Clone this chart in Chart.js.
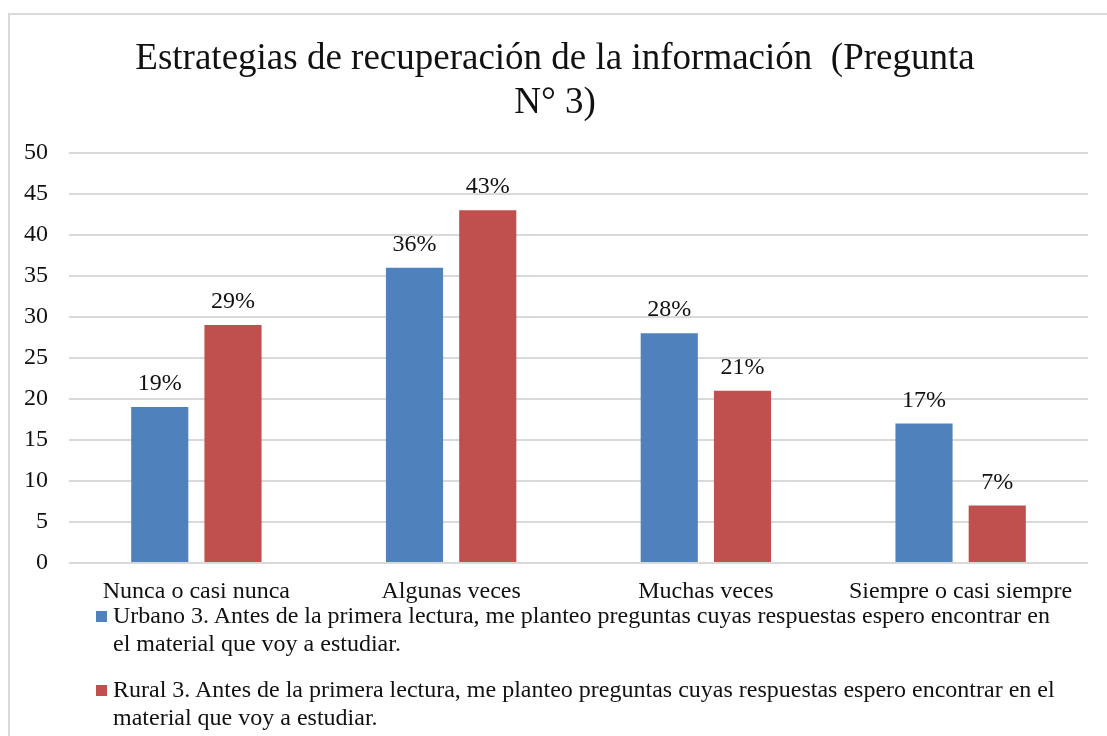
<!DOCTYPE html>
<html>
<head>
<meta charset="utf-8">
<script src="https://cdn.jsdelivr.net/npm/chart.js@4"></script>
<style>
  html, body { margin: 0; padding: 0; background: #fff; }
  #wrap { position: relative; width: 1107px; height: 736px; overflow: hidden; }
  #frame { position: absolute; left: 8px; top: 13px; width: 1200px; height: 800px;
           border-left: 2px solid #d9d9d9; border-top: 2px solid #d9d9d9; }
  #chartBox { position: absolute; left: 0; top: 0; width: 1107px; height: 736px; }
  #legend { position: absolute; left: 96px; top: 601px; width: 980px;
            font-family: "Liberation Serif", "Times New Roman", serif; font-size: 24px;
            line-height: 28px; color: #111; }
  .item { display: flex; align-items: flex-start; margin-bottom: 18px; }
  .box { width: 11px; height: 11px; margin-top: 10px; margin-right: 6px; flex: none; }
  .txt { max-width: 950px; }
</style>
</head>
<body>
<div id="wrap">
  <div id="frame"></div>
  <div id="chartBox"><canvas id="chart"></canvas></div>
  <div id="legend"></div>
</div>
<script>
const categories = ["Nunca o casi nunca", "Algunas veces", "Muchas veces", "Siempre o casi siempre"];
const urbano = [19, 36, 28, 17];
const rural = [29, 43, 21, 7];
const seriesNames = [
  "Urbano 3. Antes de la primera lectura, me planteo preguntas cuyas respuestas espero encontrar en el material que voy a estudiar.",
  "Rural 3. Antes de la primera lectura, me planteo preguntas cuyas respuestas espero encontrar en el material que voy a estudiar."
];
const titleLines = ["Estrategias de recuperación de la información  (Pregunta", "N° 3)"];

const serif = "'Liberation Serif', 'Times New Roman', serif";

// percentage labels above each bar
const valueLabels = {
  id: "valueLabels",
  afterDatasetsDraw(chart) {
    const ctx = chart.ctx;
    ctx.save();
    ctx.font = "24px " + serif;
    ctx.fillStyle = "#111";
    ctx.textAlign = "center";
    ctx.textBaseline = "alphabetic";
    chart.data.datasets.forEach((ds, i) => {
      chart.getDatasetMeta(i).data.forEach((bar, j) => {
        ctx.fillText(ds.data[j] + "%", bar.x, bar.y - 17);
      });
    });
    ctx.restore();
  }
};

const chart = new Chart(document.getElementById("chart"), {
  type: "bar",
  data: {
    labels: categories,
    datasets: [
      { label: seriesNames[0], data: urbano, backgroundColor: "#4F81BD" },
      { label: seriesNames[1], data: rural, backgroundColor: "#C0504D" }
    ]
  },
  options: {
    responsive: true,
    maintainAspectRatio: false,
    animation: false,
    layout: { padding: { left: 22, right: 19, top: 0, bottom: 0 } },
    datasets: { bar: { categoryPercentage: 0.575, barPercentage: 0.78 } },
    plugins: {
      legend: { display: false },
      tooltip: { enabled: false },
      title: {
        display: true,
        text: titleLines,
        color: "#111",
        font: { family: serif, size: 37, weight: "normal", lineHeight: 1.2 },
        padding: { top: 37, bottom: 27 }
      }
    },
    scales: {
      x: {
        grid: { display: false },
        border: { display: false },
        ticks: { color: "#111", font: { family: serif, size: 24 }, padding: 6, maxRotation: 0 },
        afterFit(scale) { scale.height = 173; }
      },
      y: {
        min: 0,
        max: 50,
        ticks: { stepSize: 5, color: "#111", font: { family: serif, size: 24 }, padding: 21 },
        grid: { color: "#d9d9d9", lineWidth: 2, drawTicks: false },
        border: { display: false },
        afterFit(scale) { scale.width = 47; }
      }
    }
  },
  plugins: [valueLabels]
});

const legend = document.getElementById("legend");
chart.data.datasets.forEach(ds => {
  const item = document.createElement("div");
  item.className = "item";
  const box = document.createElement("div");
  box.className = "box";
  box.style.background = ds.backgroundColor;
  const txt = document.createElement("div");
  txt.className = "txt";
  txt.textContent = ds.label;
  item.appendChild(box);
  item.appendChild(txt);
  legend.appendChild(item);
});
</script>
</body>
</html>
